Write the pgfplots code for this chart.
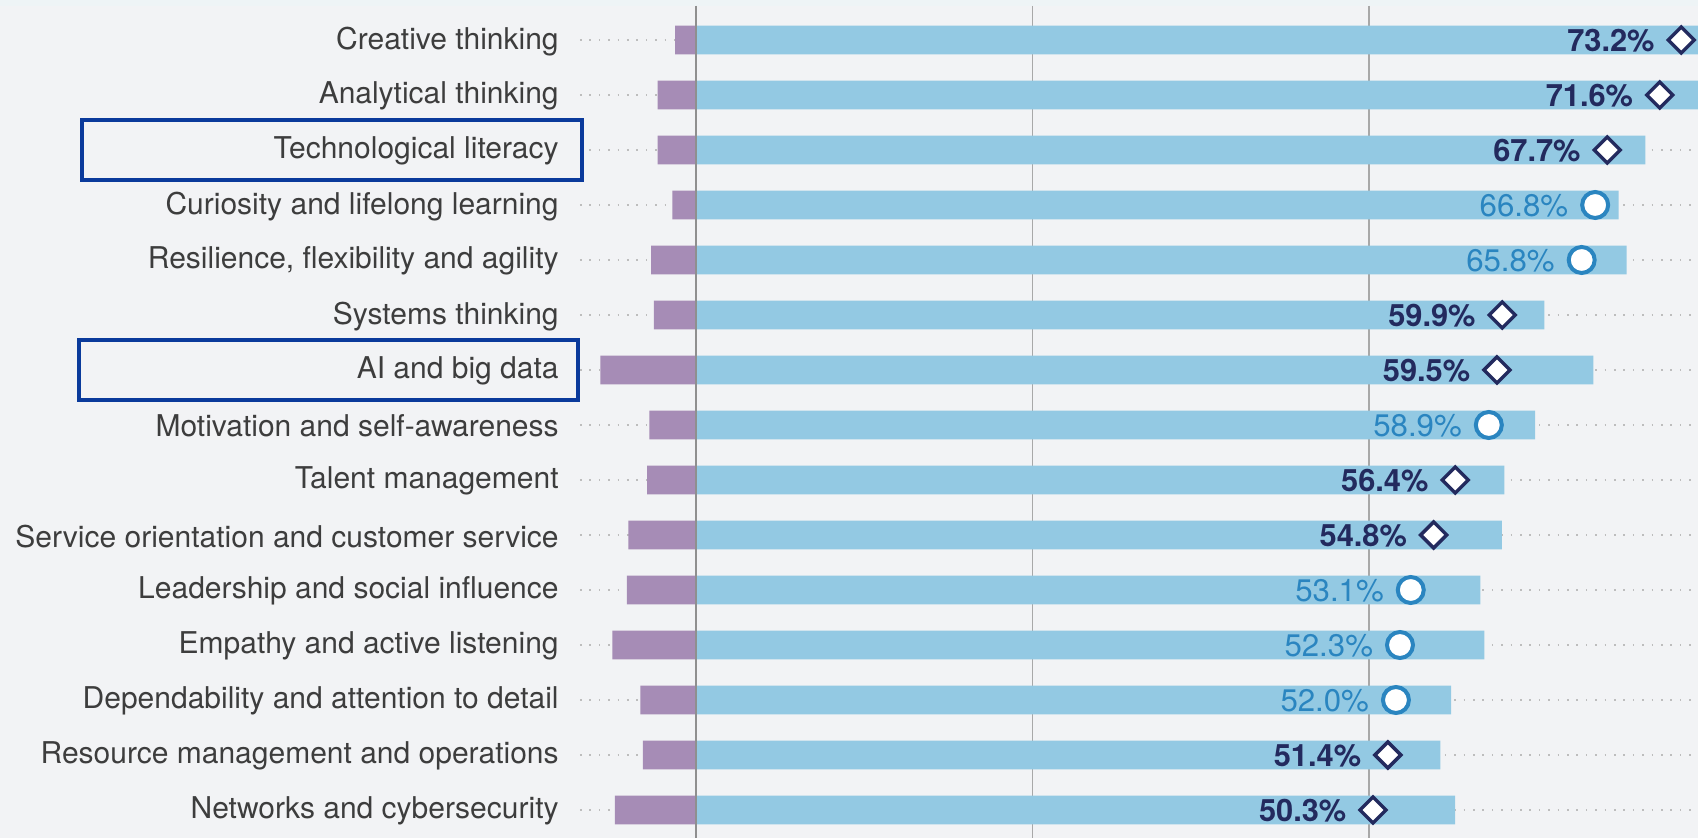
\documentclass[border=0pt]{standalone}
\usepackage{pgfplots}
\pgfplotsset{compat=1.18}
\usepackage{pgfplotstable}
\usepackage{fontspec}
\setmainfont{TeX Gyre Heros}
\definecolor{bg}{HTML}{F2F3F5}
\definecolor{topband}{HTML}{EEF4F6}
\definecolor{bluebar}{HTML}{93C9E3}
\definecolor{purplebar}{HTML}{A68CB6}
\definecolor{navy}{HTML}{232A5E}
\definecolor{ltblue}{HTML}{2A85C0}
\definecolor{labelgray}{HTML}{3D3D3D}
\definecolor{boxblue}{HTML}{0A3A9B}
\definecolor{gridgray}{HTML}{A8A8A8}
\definecolor{dotgray}{HTML}{BDBDBD}

% row, blue bar end, purple bar end
\pgfplotstableread{
y blue purple
0 74.76 -1.56
1 74.45 -2.85
2 70.53 -2.85
3 68.55 -1.76
4 69.14 -3.34
5 63.03 -3.14
6 66.67 -7.11
7 62.33 -3.47
8 60.05 -3.64
9 59.86 -5.03
10 58.27 -5.13
11 58.57 -6.22
12 56.09 -4.14
13 55.30 -3.94
14 56.39 -6.02
}\bars

\pgfplotstableread{
y val
0 73.2
1 71.6
2 67.7
5 59.9
6 59.5
8 56.4
9 54.8
13 51.4
14 50.3
}\diamonds

\pgfplotstableread{
y val
3 66.8
4 65.8
7 58.9
10 53.1
11 52.3
12 52.0
}\circles

\begin{document}
\begin{tikzpicture}
\path[use as bounding box, fill=bg] (0,0) rectangle (849pt,419pt);
\fill[topband] (0,416pt) rectangle (849pt,419pt);
\begin{axis}[
  at={(290pt,0pt)}, anchor=south west, scale only axis,
  width=559pt, height=416pt,
  xmin=-8.62, xmax=74.44, ymin=-0.618, ymax=14.509, y dir=reverse,
  axis line style={draw=none}, major tick length=0pt,
  xtick={0,25,50}, xticklabels={},
  xmajorgrids, x grid style={gridgray, line width=0.6pt, solid},
  ytick={0,...,14},
  yticklabels={Creative thinking, Analytical thinking, Technological literacy,
    Curiosity and lifelong learning, {Resilience, flexibility and agility},
    Systems thinking, AI and big data, Motivation and self-awareness,
    Talent management, Service orientation and customer service,
    Leadership and social influence, Empathy and active listening,
    Dependability and attention to detail, Resource management and operations,
    Networks and cybersecurity},
  ymajorgrids, y grid style={dotgray, line width=0.8pt, dash pattern=on 0.8pt off 3.9pt},
  yticklabel style={font=\fontsize{15}{18}\selectfont, text=labelgray, inner sep=0pt, xshift=-10.5pt, yshift=-0.6pt},
]
\addplot[xbar, bar width=14.4pt, bar shift=0pt, fill=bluebar, draw=none] table[x=blue, y=y] {\bars};
\addplot[xbar, bar width=14.4pt, bar shift=0pt, fill=purplebar, draw=none] table[x=purple, y=y] {\bars};
\draw[gridgray!85!black, line width=1pt] (axis cs:0,-0.618) -- (axis cs:0,14.509);
\addplot[only marks, mark=square*, mark size=4.6pt,
  mark options={rotate=45, fill=white, draw=navy, line width=1.7pt},
  point meta=explicit symbolic,
  nodes near coords={\pgfplotspointmeta\%},
  nodes near coords style={anchor=east, xshift=-12.5pt, yshift=-0.5pt, text=navy, font=\bfseries\fontsize{15.4}{18}\selectfont, inner sep=0pt}]
  table[x=val, y=y, meta=val] {\diamonds};
\addplot[only marks, mark=*, mark size=6.5pt,
  mark options={fill=white, draw=ltblue, line width=2pt},
  point meta=explicit symbolic,
  nodes near coords={\pgfplotspointmeta\%},
  nodes near coords style={anchor=east, xshift=-12.5pt, yshift=-0.5pt, text=ltblue, font=\fontsize{15.6}{18}\selectfont, inner sep=0pt}]
  table[x=val, y=y, meta=val] {\circles};
\coordinate (techL) at (axis cs:-8.62,2);
\coordinate (aiL) at (axis cs:-8.62,6);
\end{axis}
\draw[boxblue, line width=1.75pt] ([xshift=-249pt, yshift=15pt]techL) rectangle ([xshift=1pt, yshift=-15pt]techL);
\draw[boxblue, line width=1.75pt] ([xshift=-250.5pt, yshift=15pt]aiL) rectangle ([xshift=-1pt, yshift=-15pt]aiL);
\end{tikzpicture}
\end{document}
